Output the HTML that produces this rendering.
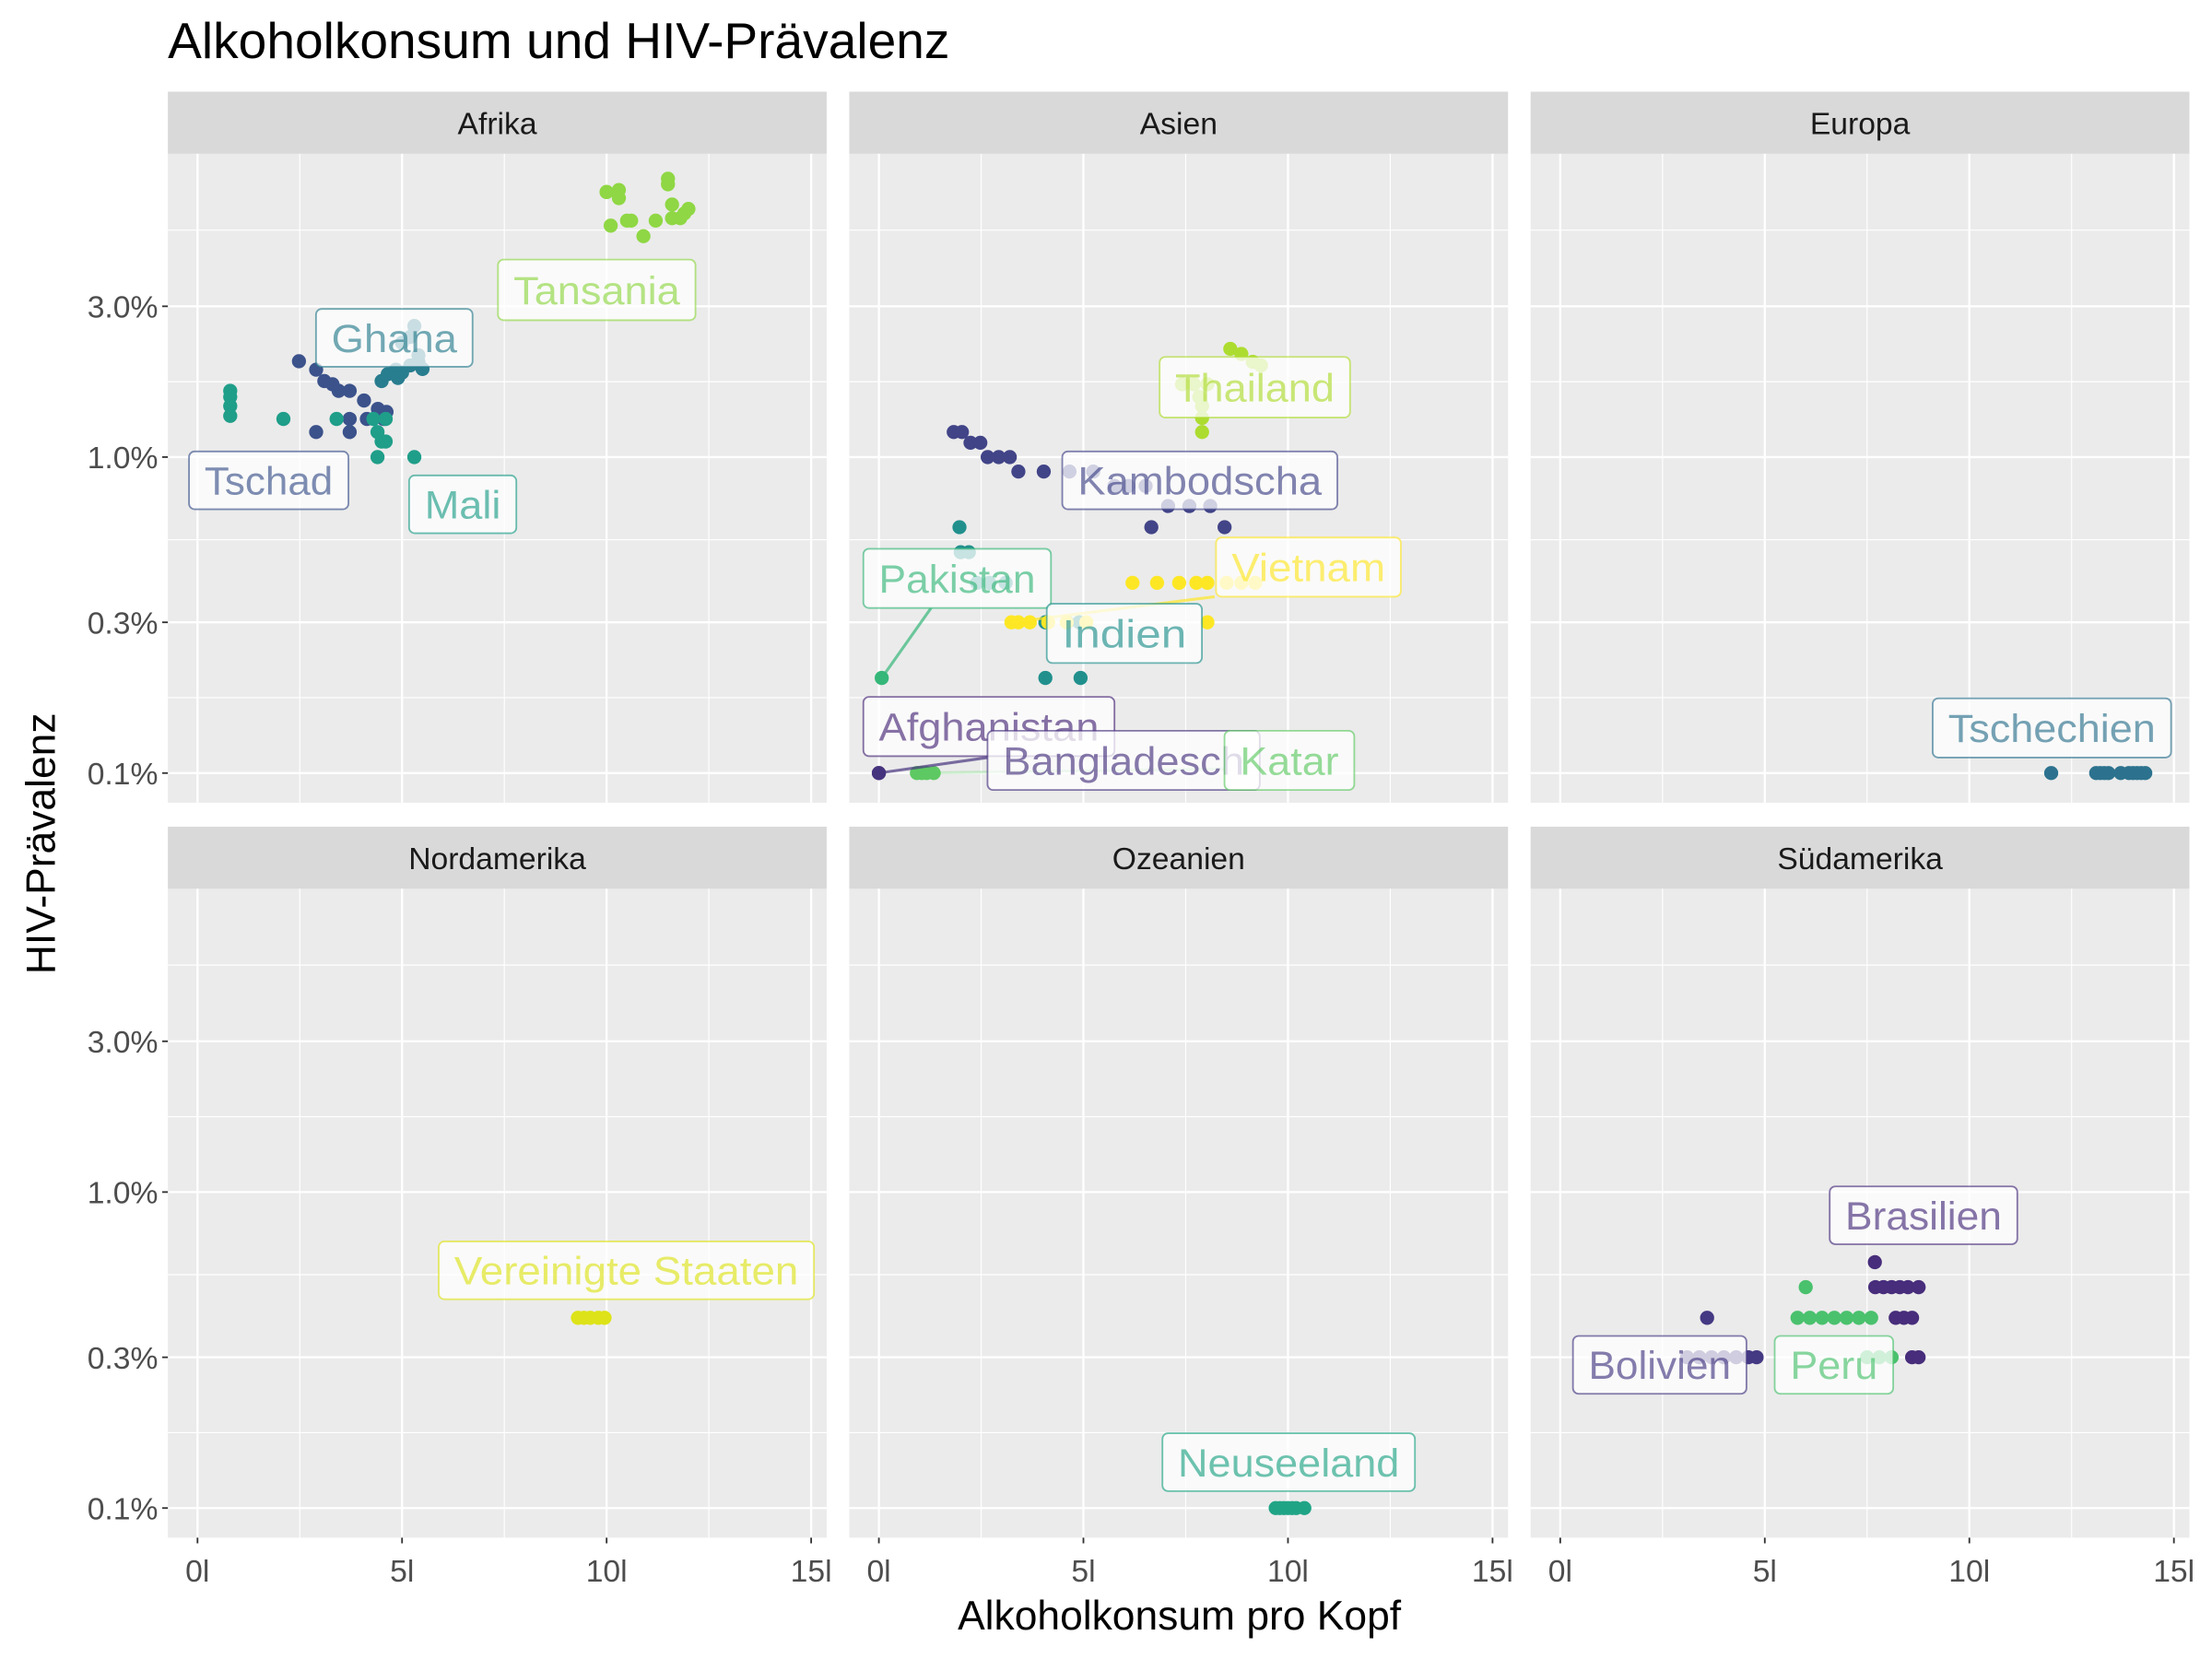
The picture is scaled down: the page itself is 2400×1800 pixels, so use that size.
<!DOCTYPE html>
<html><head><meta charset="utf-8"><style>
html,body{margin:0;padding:0;background:#fff}
svg{display:block}
text{font-family:"Liberation Sans",sans-serif}
</style></head><body>
<svg id="chart" width="2400" height="1800" viewBox="0 0 1568 1176" xmlns="http://www.w3.org/2000/svg">
<text x="119" y="41" font-size="36" fill="#000">Alkoholkonsum und HIV-Prävalenz</text>
<text x="836" y="1155" font-size="29" text-anchor="middle" fill="#000">Alkoholkonsum pro Kopf</text>
<text transform="translate(39,598) rotate(-90)" font-size="29" text-anchor="middle" fill="#000">HIV-Prävalenz</text>
<g id="panels"></g><g id="pts"></g><g id="segs"></g><g id="labels"></g>
</svg>
<script>
const continents = ["Afrika","Asien","Europa","Nordamerika","Ozeanien","Südamerika"];
const xTicks = [0,5,10,15];
const xTickLabels = ["0l","5l","10l","15l"];
const yTicks = [0.1,0.3,1.0,3.0];
const yTickLabels = ["0.1%","0.3%","1.0%","3.0%"];
const countries = ["Tansania","Ghana","Tschad","Mali","Kambodscha","Thailand","Pakistan","Indien","Vietnam","Afghanistan","Bangladesch","Katar","Tschechien","Vereinigte Staaten","Neuseeland","Brasilien","Bolivien","Peru"];
const countryContinent = [0,0,0,0,1,1,1,1,1,1,1,1,2,3,4,5,5,5];
const alcohol = [
 [10.0,10.3,10.3,10.5,10.1,10.6,11.2,10.9,11.5,11.5,11.6,11.9,11.6,12.0,11.8,10.0],
 [4.5,4.65,4.85,5.0,5.2,5.4,5.5,5.3,5.0,5.4,5.2,4.9],
 [2.48,2.9,3.1,3.45,3.72,4.07,4.41,4.62,4.55,4.14,3.72,2.9,3.72,3.3],
 [0.8,0.8,0.8,0.8,2.1,3.4,4.3,4.6,4.4,4.5,4.4,4.6,5.3],
 [1.83,2.03,2.24,2.48,2.66,2.93,3.2,3.41,4.03,4.66,5.24,5.76,6.1,6.52,7.07,7.59,8.1,6.66,8.45],
 [8.59,8.86,9.14,9.34,7.41,8.03,7.9,7.9,7.9,7.83,7.7],
 [0.07],
 [1.97,2.0,2.2,2.4,2.7,3.1,4.07,4.6,4.9,4.07,4.93],
 [3.24,3.41,3.69,4.14,4.59,5.07,6.2,6.8,7.34,7.76,8.03,8.5,8.86,9.2,8.03],
 [0.0],
 [0.0],
 [0.93,1.05,1.17,1.34],
 [12.0,13.1,13.2,13.3,13.4,13.7,13.9,14.0,14.1,14.2,14.3],
 [9.3,9.45,9.6,9.8,9.95],
 [9.7,9.8,9.9,10.0,10.1,10.2,10.4],
 [7.69,7.7,7.9,8.1,8.3,8.5,8.76,8.2,8.4,8.6,8.6,8.76],
 [3.59,3.1,3.4,3.7,4.0,4.3,4.6,4.8],
 [6.0,5.8,6.1,6.4,6.7,7.0,7.3,7.6,7.5,7.8,8.1]
];
const hiv = [
 [6.9,7.0,6.6,5.6,5.4,5.6,5.6,5.0,7.3,7.6,6.3,5.9,5.7,6.1,5.7,6.9],
 [1.74,1.83,1.89,1.85,1.95,2.0,1.9,2.6,2.3,2.1,2.4,1.78],
 [2.01,1.89,1.74,1.62,1.62,1.51,1.42,1.39,1.32,1.32,1.32,1.2,1.2,1.7],
 [1.62,1.55,1.45,1.35,1.32,1.32,1.32,1.32,1.2,1.12,1.0,1.12,1.0],
 [1.2,1.2,1.11,1.11,1.0,1.0,1.0,0.9,0.9,0.9,0.9,0.81,0.81,0.81,0.7,0.7,0.7,0.6,0.6],
 [2.2,2.12,2.0,1.95,1.7,1.7,1.45,1.33,1.2,1.55,1.7],
 [0.2],
 [0.6,0.5,0.5,0.4,0.4,0.4,0.3,0.3,0.3,0.2,0.2],
 [0.3,0.3,0.3,0.3,0.3,0.3,0.4,0.4,0.4,0.4,0.4,0.4,0.4,0.4,0.3],
 [0.1],
 [0.1],
 [0.1,0.1,0.1,0.1],
 [0.1,0.1,0.1,0.1,0.1,0.1,0.1,0.1,0.1,0.1,0.1],
 [0.4,0.4,0.4,0.4,0.4],
 [0.1,0.1,0.1,0.1,0.1,0.1,0.1],
 [0.6,0.5,0.5,0.5,0.5,0.5,0.5,0.4,0.4,0.4,0.3,0.3],
 [0.4,0.3,0.3,0.3,0.3,0.3,0.3,0.3],
 [0.5,0.4,0.4,0.4,0.4,0.4,0.4,0.4,0.3,0.3,0.3]
];
const colors = ["#8fd744","#287d8e","#3b528b","#1f9e89","#414487","#addc30","#35b779","#21908d","#fde725","#482878","#46337e","#5ec962","#2c728e","#dde318","#20a486","#472d7b","#443983","#4ac16d"];
const labelBoxes = [[353,184,493,227],[224,219,335,260],[134,320,247,361],[290,337,366,378],[753,320,948,361],[822,253,957,296],[612,389,745,431],[742,428,852,470],[862,381,993,423],[612,494,790,536],[700,518,893,560],[868,518,960,560],[1370,495,1539,537],[311,880,577,921],[824,1016,1003,1057],[1297,841,1430,882],[1115,947,1238,988],[1258,947,1342,988]];
const segEnds = {6:[660,431],10:[700,537],11:[868,545],8:[861,423]};

const NS="http://www.w3.org/2000/svg";
const colX=[119,602,1085], rowY=[109,630], PW=467, PH=460;
function xs(col,v){return colX[col]+21+v*29;}
function ys(row,v){return rowY[row]+439-Math.log10(v/0.1)*224;}
function mk(tag,attrs,parent){const e=document.createElementNS(NS,tag);for(const k in attrs)e.setAttribute(k,attrs[k]);parent.appendChild(e);return e;}
const P=document.getElementById('panels');
continents.forEach((c,i)=>{
 const col=i%3,row=Math.floor(i/3);
 const g=mk('g',{},P);
 
 
 mk('rect',{x:colX[col],y:rowY[row],width:PW,height:PH,fill:'#ebebeb'},g);
 const strip=mk('rect',{x:colX[col],y:rowY[row]-44,width:PW,height:44,fill:'#d9d9d9'},g);
 
 
 const st=mk('text',{x:colX[col]+PW/2,y:rowY[row]-14,'font-size':22,'text-anchor':'middle',fill:'#1a1a1a'},g);
 st.textContent=c;
 
 
 [2.5,7.5,12.5].forEach(v=>mk('line',{x1:xs(col,v),x2:xs(col,v),y1:rowY[row],y2:rowY[row]+PH,stroke:'#fff','stroke-width':0.75},g));
 const ym=[ys(row,0.1),ys(row,0.3),ys(row,1),ys(row,3)];
 [(ym[0]+ym[1])/2,(ym[1]+ym[2])/2,(ym[2]+ym[3])/2,ym[3]-54].forEach(y=>mk('line',{x1:colX[col],x2:colX[col]+PW,y1:y,y2:y,stroke:'#fff','stroke-width':0.75},g));
 xTicks.forEach((v,k)=>{
  mk('line',{x1:xs(col,v),x2:xs(col,v),y1:rowY[row],y2:rowY[row]+PH,stroke:'#fff','stroke-width':1.5},g);
  if(row===1){
   mk('line',{x1:xs(col,v),x2:xs(col,v),y1:rowY[row]+PH,y2:rowY[row]+PH+4,stroke:'#333','stroke-width':1.2},g);
   const t=mk('text',{x:xs(col,v),y:rowY[row]+PH+31,'font-size':22,'text-anchor':'middle',fill:'#4d4d4d'},g);
   t.textContent=xTickLabels[k];
   
   
  }
 });
 yTicks.forEach((v,k)=>{
  mk('line',{x1:colX[col],x2:colX[col]+PW,y1:ys(row,v),y2:ys(row,v),stroke:'#fff','stroke-width':1.5},g);
  if(col===0){
   mk('line',{x1:colX[col]-4,x2:colX[col],y1:ys(row,v),y2:ys(row,v),stroke:'#333','stroke-width':1.2},g);
   const t=mk('text',{x:colX[col]-7,y:ys(row,v)+8,'font-size':22,'text-anchor':'end',fill:'#4d4d4d'},g);
   t.textContent=yTickLabels[k];
   
   
  }
 });
});
const PT=document.getElementById('pts'),SG=document.getElementById('segs'),LB=document.getElementById('labels');
countries.forEach((name,i)=>{
 const ci=countryContinent[i],col=ci%3,row=Math.floor(ci/3);
 alcohol[i].forEach((a,j)=>{
  const c=mk('circle',{cx:xs(col,a),cy:ys(row,hiv[i][j]),r:5,fill:colors[i]},PT);
  
  
 });
 if(segEnds[i]){
  const l=mk('line',{x1:xs(col,alcohol[i][0]),y1:ys(row,hiv[i][0]),x2:segEnds[i][0],y2:segEnds[i][1],stroke:colors[i],'stroke-width':2,'stroke-opacity':i===11?0.3:0.7},SG);
  
  
 }
 const b=labelBoxes[i];
 const g=mk('g',{},LB);
 
 
 mk('rect',{x:b[0],y:b[1],width:b[2]-b[0],height:b[3]-b[1],rx:4,fill:'#fff','fill-opacity':0.75,stroke:colors[i],'stroke-opacity':0.65,'stroke-width':1.2},g);
 const t=mk('text',{x:(b[0]+b[2])/2,y:(b[1]+b[3])/2+10,'font-size':28,'text-anchor':'middle',fill:colors[i],'fill-opacity':0.65,textLength:b[2]-b[0]-22,lengthAdjust:'spacingAndGlyphs'},g);
 t.textContent=name;
});
</script>
</body></html>
